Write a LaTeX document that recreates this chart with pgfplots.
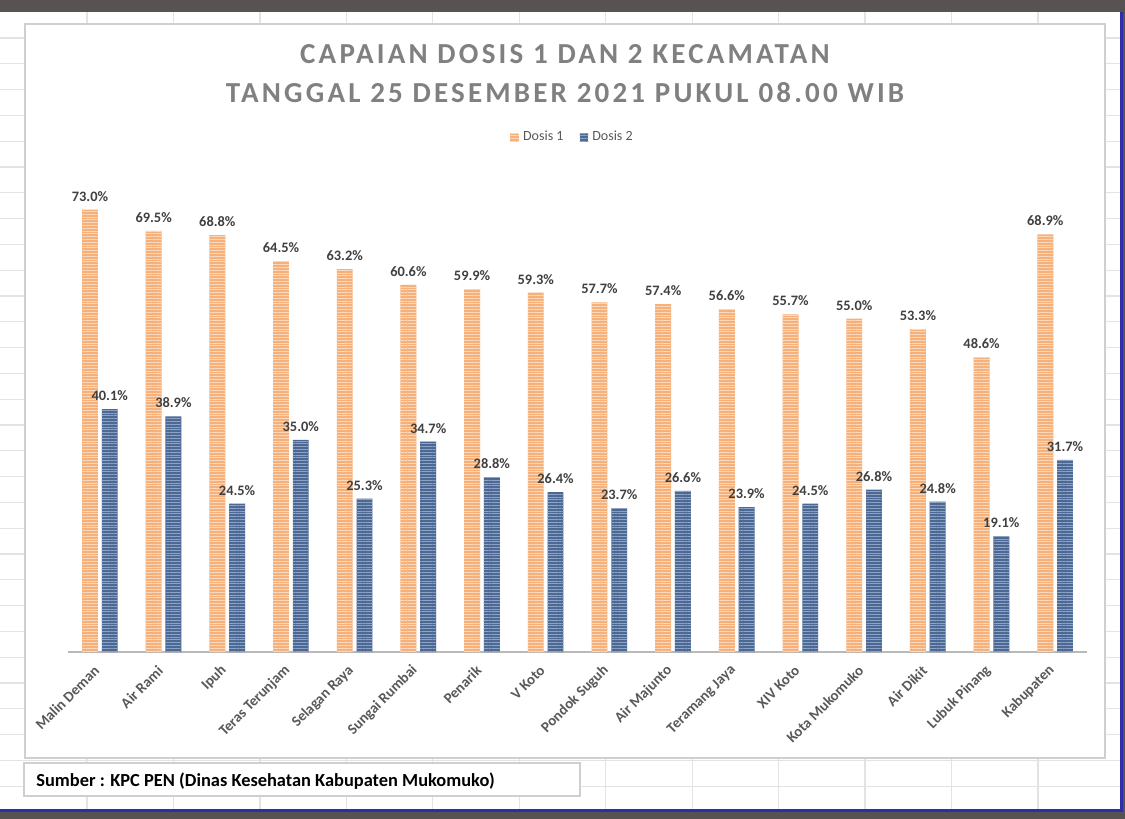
\documentclass[border=0pt]{standalone}
\usepackage{pgfplots}
\pgfplotsset{compat=1.18}
\usepackage{fontspec}
\setmainfont{Carlito}
\usetikzlibrary{patterns.meta}

\definecolor{dosisA}{HTML}{F6B07A}
\definecolor{dosisAl}{HTML}{FCD9BC}
\definecolor{dosisB}{HTML}{4C6894}
\definecolor{dosisBl}{HTML}{8FA4C4}
\definecolor{titlegray}{HTML}{808080}
\definecolor{labgray}{HTML}{595959}
\definecolor{valgray}{HTML}{404040}
\definecolor{gridc}{HTML}{E3E3E3}
\definecolor{darkframe}{HTML}{575352}
\definecolor{blueframe}{HTML}{2E2EA8}

\begin{document}
\begin{tikzpicture}
\begin{scope}[x=0.5pt,y=-0.5pt]
\useasboundingbox (0,0) rectangle (1125,819);
\fill[white] (0,0) rectangle (1125,819);
% spreadsheet grid
\foreach \k in {0,...,11} {\draw[gridc,line width=0.6pt] ({87+86.45*\k},0) -- ({87+86.45*\k},819);}
\foreach \k in {0,...,30} {\draw[gridc,line width=0.6pt] (0,{38+25.8*\k}) -- (1125,{38+25.8*\k});}
% frame of screenshot
\fill[darkframe] (0,0) rectangle (1125,12);
\fill[blueframe] (1120,12) rectangle (1123,812);
\fill[blueframe] (0,809) rectangle (1123,812);
\fill[darkframe] (1123,12) rectangle (1125,819);
\fill[darkframe] (0,812) rectangle (1125,819);
% chart area
\draw[fill=white,draw=gridc!80!gray,line width=0.7pt] (25,24) rectangle (1105,758);
% source box
\draw[fill=white,draw=gridc!80!gray,line width=0.8pt] (24,763) rectangle (580,796);
\node[anchor=west,inner sep=0pt,font=\bfseries\fontsize{9.2}{11}\selectfont] at (36,781) {Sumber : KPC PEN (Dinas Kesehatan Kabupaten Mukomuko)};
% title
\node[font=\bfseries\fontsize{14.5}{17}\selectfont\addfontfeature{LetterSpace=11},text=titlegray,inner sep=0pt] at (565,54) {CAPAIAN DOSIS 1 DAN 2 KECAMATAN};
\node[font=\bfseries\fontsize{14.5}{17}\selectfont\addfontfeature{LetterSpace=11},text=titlegray,inner sep=0pt] at (565,93) {TANGGAL 25 DESEMBER 2021 PUKUL 08.00 WIB};
\end{scope}

\begin{axis}[
  at={(34pt,-326pt)}, anchor=south west,
  scale only axis, width=509.5pt, height=242.4pt,
  xmin=-0.5, xmax=15.5, ymin=0, ymax=80,
  axis x line*=bottom, axis y line=none,
  x axis line style={draw=gray!55, line width=1pt},
  xtick={0,...,15},
  xticklabels={Malin Deman,Air Rami,Ipuh,Teras Terunjam,Selagan Raya,Sungai Rumbai,Penarik,V Koto,Pondok Suguh,Air Majunto,Teramang Jaya,XIV Koto,Kota Mukomuko,Air Dikit,Lubuk Pinang,Kabupaten},
  major tick length=0pt,
  xticklabel shift={8pt},
  xticklabel style={xshift=-1.5pt, rotate=45, anchor=east, inner sep=0pt, text=labgray, font=\bfseries\fontsize{7.4}{9}\selectfont},
  ytick=\empty,
  ybar, bar width=0.25,
  nodes near coords={\pgfmathprintnumber[fixed,fixed zerofill,precision=1,assume math mode=true]{\pgfplotspointmeta}\%},
  nodes near coords style={font=\bfseries\fontsize{7.2}{9}\selectfont, text=valgray, anchor=south, inner sep=0pt, yshift=4pt},
  legend style={at={(0.5,1)}, anchor=south, yshift=7.5pt, xshift=-2pt, draw=none, fill=none, font=\fontsize{7}{8}\selectfont, text=labgray, legend columns=2, /tikz/every even column/.append style={column sep=6pt}},
  legend image code/.code={\path[#1, draw=none] (0pt,-2.2pt) rectangle (4.4pt,2.2pt);},
  clip=false,
]
\addplot[fill=dosisA, draw=none, bar shift=-0.155, postaction={pattern={Lines[angle=0,distance=1.4pt,line width=0.3pt]}, pattern color=dosisAl}] coordinates {
(0,73.0) (1,69.5) (2,68.8) (3,64.5) (4,63.2) (5,60.6) (6,59.9) (7,59.3) (8,57.7) (9,57.4) (10,56.6) (11,55.7) (12,55.0) (13,53.3) (14,48.6) (15,68.9)};
\addplot[fill=dosisB, draw=none, bar shift=0.155, postaction={pattern={Lines[angle=0,distance=1.4pt,line width=0.3pt]}, pattern color=dosisBl}] coordinates {
(0,40.1) (1,38.9) (2,24.5) (3,35.0) (4,25.3) (5,34.7) (6,28.8) (7,26.4) (8,23.7) (9,26.6) (10,23.9) (11,24.5) (12,26.8) (13,24.8) (14,19.1) (15,31.7)};
\legend{Dosis 1, Dosis 2}
\end{axis}
\end{tikzpicture}
\end{document}
